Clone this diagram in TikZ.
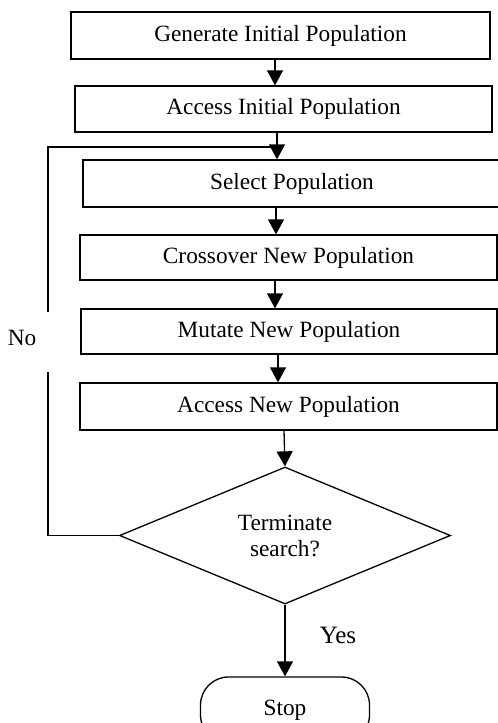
\documentclass[tikz,border=0pt]{standalone}
\usepackage{fontspec}
\setmainfont{Liberation Serif}
\usetikzlibrary{shapes.geometric,arrows.meta}
\begin{document}
\begin{tikzpicture}[x=1pt,y=-1pt,
  line width=1.3pt,
  font=\fontsize{23.3}{26}\selectfont,
  procbox/.style={draw, rectangle, inner sep=0pt, minimum width=417pt, minimum height=46pt},
  arr/.style={-{Triangle[length=15pt,width=16pt]}},
  decision/.style={draw, diamond, aspect=2.4, inner sep=0pt, minimum width=331pt, minimum height=137pt, align=center},
  terminal/.style={draw, rectangle, rounded corners=28pt, inner sep=0pt, minimum width=169pt, minimum height=66pt}
]
\useasboundingbox (0,0) rectangle (498,723);
\clip (0,0) rectangle (498,723);

\node[procbox, minimum width=419pt, minimum height=47pt] (b1) at (280.5,35.5) {Generate Initial Population};
\node[procbox] (b2) at (283.5,109) {Access Initial Population};
\node[procbox, minimum width=418pt, minimum height=47pt] (b3) at (292,183.5) {Select Population};
\node[procbox, minimum height=45pt] (b4) at (288.5,257.5) {Crossover New Population};
\node[procbox, minimum width=416pt, minimum height=45pt] (b5) at (289,331.5) {Mutate New Population};
\node[procbox, minimum height=47pt] (b6) at (288.5,406.5) {Access New Population};
\node[decision] (dec) at (285,535.5) {Terminate\\search?};
\node[terminal] (stop) at (285,710) {Stop};

\node (no) at (22,338) {No};
\node[font=\fontsize{25}{28}\selectfont] (yes) at (338,635) {Yes};

\coordinate (join) at (277,147);
\coordinate (lt) at (48,147);
\coordinate (lb) at (48,535.5);
\coordinate (gapt) at (48,312);
\coordinate (gapb) at (48,372);

\draw[arr] (275,0 |- b1.south) -- (275,0 |- b2.north);
\draw[arr] (277,0 |- b2.south) -- (277,0 |- b3.north);
\draw[arr] (276,0 |- b3.south) -- (276,0 |- b4.north);
\draw[arr] (275,0 |- b4.south) -- (275,0 |- b5.north);
\draw[arr] (278,0 |- b5.south) -- (278,0 |- b6.north);
\draw[arr] (284,0 |- b6.south) -- (dec.north);
\draw[arr] (dec.south) -- (stop.north);
\draw (dec.west) -- (lb) -- (gapb);
\draw (gapt) -- (lt) -- (join);
\end{tikzpicture}
\end{document}
